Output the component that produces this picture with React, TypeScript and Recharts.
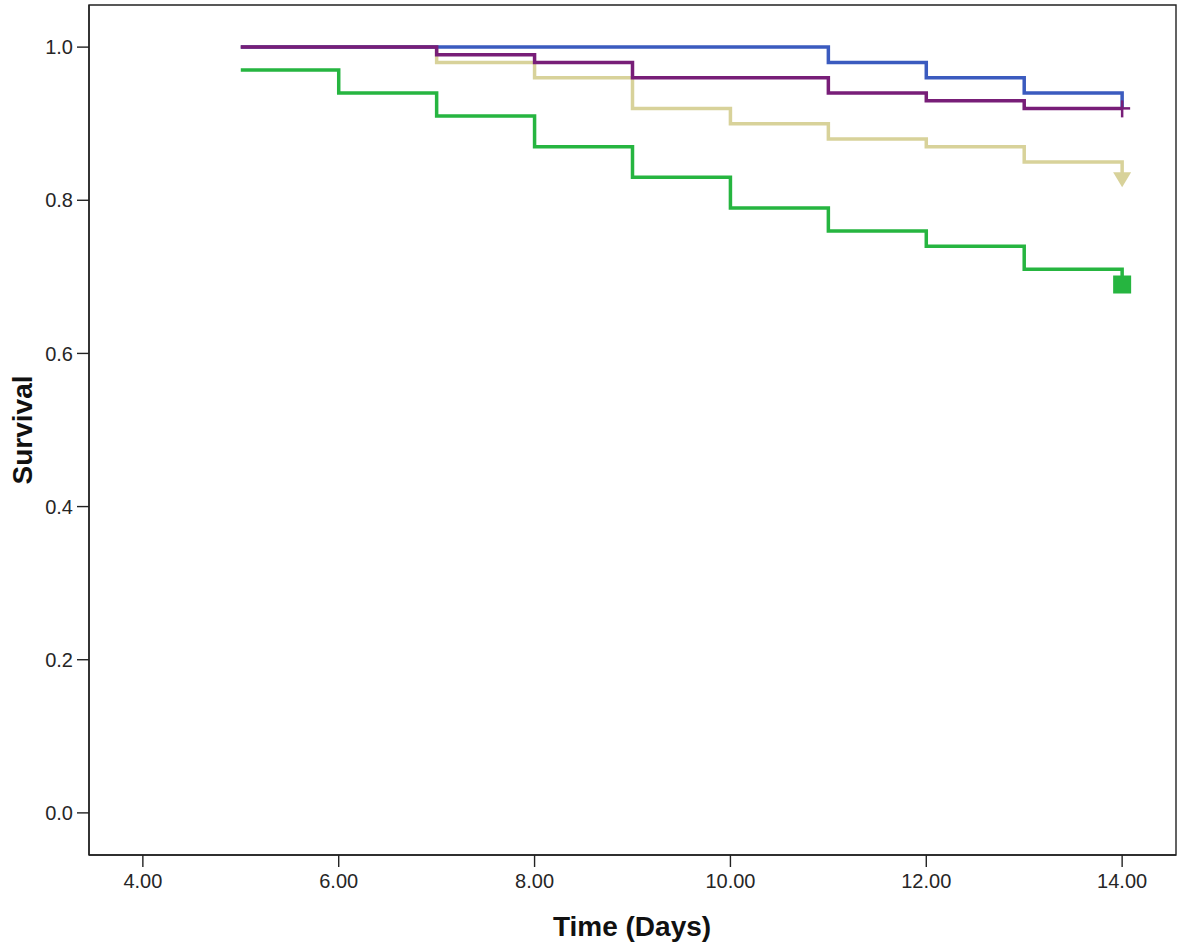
import { Label, Line, LineChart, ReferenceArea, XAxis, YAxis } from 'recharts'

// Survival step curves (value holds from each time to the next)
const times = [5, 6, 7, 8, 9, 10, 11, 12, 13, 14]
const blueSurvival = [1, 1, 1, 1, 1, 1, 0.98, 0.96, 0.94, 0.92]
const purpleSurvival = [1, 1, 0.99, 0.98, 0.96, 0.96, 0.94, 0.93, 0.92, 0.92]
const khakiSurvival = [1, 1, 0.98, 0.96, 0.92, 0.9, 0.88, 0.87, 0.85, 0.83]
const greenSurvival = [0.97, 0.94, 0.91, 0.87, 0.83, 0.79, 0.76, 0.74, 0.71, 0.69]

const xTicks = [4, 6, 8, 10, 12, 14]
const yTicks = [0, 0.2, 0.4, 0.6, 0.8, 1.0]

const X_DOMAIN: [number, number] = [3.45, 14.55]
const Y_DOMAIN: [number, number] = [-0.055, 1.055]

const toPoints = (values: number[]) => times.map((t, i) => ({ t, s: values[i] }))

const FONT = '"Liberation Sans", Arial, sans-serif'
const tickStyle = { fontSize: 20, fill: '#262626', fontFamily: FONT }
const axisLine = { stroke: '#222', strokeWidth: 1.4 }
const titleStyle = { fontSize: 28, fontWeight: 'bold', fill: '#111', fontFamily: FONT }

type Marker = 'none' | 'cross' | 'triangle' | 'square'

function endMarker(kind: Marker, color: string, lastIndex: number) {
  return (props: any) => {
    const { cx, cy, index } = props
    if (index !== lastIndex || kind === 'none') return <g key={`d-${index}`} />
    if (kind === 'square') {
      return <rect key={`d-${index}`} x={cx - 9} y={cy - 9} width={18} height={18} fill={color} />
    }
    if (kind === 'triangle') {
      return (
        <polygon
          key={`d-${index}`}
          points={`${cx - 9},${cy - 5} ${cx + 9},${cy - 5} ${cx},${cy + 10}`}
          fill={color}
        />
      )
    }
    return (
      <g key={`d-${index}`} stroke={color} strokeWidth={2.5}>
        <line x1={cx} y1={cy - 8} x2={cx} y2={cy + 9} />
        <line x1={cx - 8} y1={cy} x2={cx + 8} y2={cy} />
      </g>
    )
  }
}

const series = [
  { key: 'khaki', values: khakiSurvival, color: '#d8d29a', marker: 'triangle' as Marker },
  { key: 'blue', values: blueSurvival, color: '#3b5bbf', marker: 'none' as Marker },
  { key: 'green', values: greenSurvival, color: '#26b540', marker: 'square' as Marker },
  { key: 'purple', values: purpleSurvival, color: '#781e78', marker: 'cross' as Marker },
]

export default function App() {
  return (
    <div style={{ position: 'absolute', left: 0, top: 0, background: '#fff' }}>
      <LineChart width={1181} height={947} margin={{ top: 5, right: 5, bottom: 0, left: 0 }}>
        <XAxis
          type="number"
          dataKey="t"
          domain={X_DOMAIN}
          ticks={xTicks}
          allowDataOverflow
          tickFormatter={(v: number) => v.toFixed(2)}
          tick={tickStyle}
          tickSize={12}
          tickMargin={7}
          axisLine={axisLine}
          tickLine={axisLine}
          height={92}
        >
          <Label
            content={() => (
              <text x={632} y={936} textAnchor="middle" style={titleStyle}>
                Time (Days)
              </text>
            )}
          />
        </XAxis>
        <YAxis
          type="number"
          dataKey="s"
          domain={Y_DOMAIN}
          ticks={yTicks}
          allowDataOverflow
          tickFormatter={(v: number) => v.toFixed(1)}
          tick={tickStyle}
          tickSize={12}
          tickMargin={4}
          axisLine={axisLine}
          tickLine={axisLine}
          width={89}
        >
          <Label
            content={() => (
              <text x={32} y={430} transform="rotate(-90 32 430)" textAnchor="middle" style={titleStyle}>
                Survival
              </text>
            )}
          />
        </YAxis>
        <ReferenceArea
          x1={X_DOMAIN[0]}
          x2={X_DOMAIN[1]}
          y1={Y_DOMAIN[0]}
          y2={Y_DOMAIN[1]}
          fill="none"
          stroke="#222"
          strokeWidth={1.4}
          fillOpacity={0}
          ifOverflow="visible"
        />
        {series.map((s) => (
          <Line
            key={s.key}
            data={toPoints(s.values)}
            dataKey="s"
            type="stepAfter"
            stroke={s.color}
            strokeWidth={3.5}
            dot={endMarker(s.marker, s.color, times.length - 1)}
            activeDot={false}
            isAnimationActive={false}
          />
        ))}
      </LineChart>
    </div>
  )
}
